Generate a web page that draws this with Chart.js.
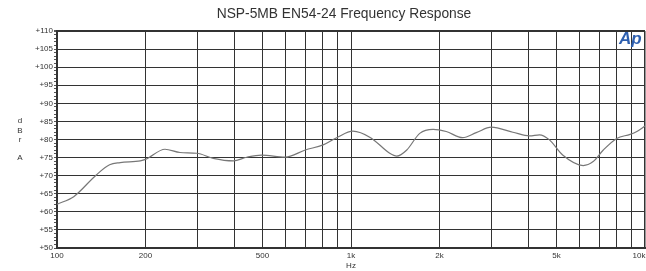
<!DOCTYPE html>
<html>
<head>
<meta charset="utf-8">
<script src="https://cdn.jsdelivr.net/npm/chart.js@4.4.1/dist/chart.umd.min.js"></script>
<style>
  html, body { margin: 0; padding: 0; background: #fff; }
  #wrap { width: 646px; height: 271px; }
</style>
</head>
<body>
<div id="wrap"><canvas id="freqChart" width="646" height="271"></canvas></div>
<script>
const freqs = [100, 114, 136, 151, 164, 192, 200, 233, 262, 299, 340, 398, 442, 496, 597, 699, 804, 894, 1015,
  1166, 1354, 1431, 1548, 1713, 1903, 2108, 2396, 2667, 3002, 3553, 4053, 4377, 4732, 5246, 6163, 6663,
  7215, 8012, 8900, 9380, 10000];
const levels = [62.1, 64.2, 70.2, 73.0, 73.6, 74.1, 74.5, 77.3, 76.4, 76.2, 74.8, 74.1, 75.1, 75.7, 75.1, 77.1, 78.5, 80.5, 82.3,
  80.5, 76.2, 75.4, 77.1, 81.7, 82.8, 82.2, 80.5, 81.9, 83.4, 82.0, 81.0, 81.3, 79.9, 75.7, 72.8, 73.9,
  77.1, 80.3, 81.4, 82.2, 83.7];

const xGridValues = [100, 200, 300, 400, 500, 600, 700, 800, 900, 1000, 2000, 3000, 4000, 5000, 6000, 7000, 8000, 9000, 10000];
const xLabelValues = [100, 200, 500, 1000, 2000, 5000, 10000];
const xLabels = ['100', '200', '500', '1k', '2k', '5k', '10k'];

const yMin = 50, yMax = 110;
const yAxisLetters = ['d', 'B', 'r', '', 'A'];

const titleText = 'NSP-5MB EN54-24 Frequency Response';
const FONT = '"Liberation Sans", Arial, sans-serif';
const GRID = '#333';

const points = freqs.map((f, i) => ({ x: f, y: levels[i] }));
const lastX = xLabelValues[xLabelValues.length - 1];

// title, vertical dBrA label, last x label (kept inside the canvas) and the Ap logo
const decorations = {
  id: 'decorations',
  afterDraw(chart) {
    const ctx = chart.ctx;
    ctx.save();
    ctx.fillStyle = '#333';
    ctx.font = '13.8px ' + FONT;
    ctx.textAlign = 'center';
    ctx.textBaseline = 'middle';
    ctx.fillText(titleText, 344, 14);

    ctx.font = '8px ' + FONT;
    yAxisLetters.forEach((ch, i) => {
      if (ch) ctx.fillText(ch, 20, 121 + i * 9.3);
    });

    // the edge label is pushed left so it stays on the page
    const xs = chart.scales.x;
    ctx.textAlign = 'right';
    const px = Math.min(xs.getPixelForValue(lastX) + 7, chart.width - 0.5);
    ctx.fillText(xLabels[xLabels.length - 1], px, 255.5);

    ctx.fillStyle = '#2d5fb0';
    ctx.font = 'italic bold 17px ' + FONT;
    ctx.textAlign = 'left';
    ctx.textBaseline = 'alphabetic';
    ctx.fillText('Ap', 619, 44);
    ctx.restore();
  }
};

const ctx = document.getElementById('freqChart');

new Chart(ctx, {
  type: 'line',
  data: {
    datasets: [{
      data: points,
      borderColor: '#777',
      borderWidth: 1.2,
      pointRadius: 0,
      fill: false,
      cubicInterpolationMode: 'monotone'
    }]
  },
  options: {
    responsive: false,
    animation: false,
    layout: { padding: { top: 31, left: 0, right: 1, bottom: 0 } },
    plugins: {
      legend: { display: false },
      tooltip: { enabled: false },
      title: { display: false }
    },
    scales: {
      x: {
        type: 'logarithmic',
        min: 100,
        max: 10000,
        afterBuildTicks: (scale) => {
          scale.ticks = xGridValues.map(v => ({ value: v }));
        },
        afterFit: (scale) => {
          scale.height = 23;
          scale.paddingLeft = 0;
          scale.paddingRight = 0;
        },
        grid: {
          color: GRID,
          lineWidth: (c) => (c.tick && c.tick.value === 10000 ? 1.5 : 1),
          drawTicks: false
        },
        border: { display: true, color: GRID, width: 2 },
        ticks: {
          autoSkip: false,
          maxRotation: 0,
          padding: 3,
          color: '#333',
          font: { family: FONT, size: 8 },
          callback: (value) => {
            const i = xLabelValues.indexOf(value);
            return i >= 0 && value !== lastX ? xLabels[i] : '';
          }
        },
        title: {
          display: true,
          text: 'Hz',
          color: '#333',
          font: { family: FONT, size: 8 },
          padding: { top: 0, bottom: 0 }
        }
      },
      y: {
        min: yMin,
        max: yMax,
        afterBuildTicks: (scale) => {
          const t = [];
          for (let v = yMin; v <= yMax; v++) t.push({ value: v });
          scale.ticks = t;
        },
        afterFit: (scale) => {
          scale.width = 57;
          scale.paddingTop = 0;
          scale.paddingBottom = 0;
        },
        grid: {
          color: (c) => (c.tick && c.tick.value % 5 === 0 ? GRID : 'rgba(0,0,0,0)'),
          lineWidth: (c) => (c.tick && (c.tick.value === yMax) ? 2 : 1),
          tickColor: '#555',
          tickLength: 3
        },
        border: { display: true, color: GRID, width: 2 },
        ticks: {
          autoSkip: false,
          padding: 1,
          color: '#333',
          font: { family: FONT, size: 8 },
          callback: (value) => (value % 5 === 0 ? '+' + value : '')
        }
      }
    }
  },
  plugins: [decorations]
});
</script>
</body>
</html>
